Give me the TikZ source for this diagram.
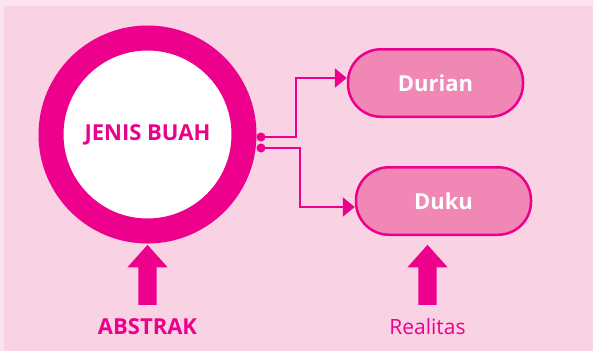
\documentclass[tikz,border=0pt]{standalone}
\usepackage{fontspec}
\setmainfont{Open Sans}
\usetikzlibrary{shapes,arrows.meta,calc,positioning}
\definecolor{magenta}{HTML}{EC008C}
\definecolor{boxpink}{HTML}{F187B4}
\definecolor{panel}{HTML}{F9D3E4}
\definecolor{frame}{HTML}{FBE4EE}
\begin{document}
\begin{tikzpicture}[x=1pt,y=-1pt,node distance=100pt,on grid,
    ring/.style={circle,draw=magenta,line width=25pt,fill=white,minimum size=193pt,
      inner sep=0pt,text=magenta,font=\fontsize{22}{26}\selectfont\bfseries},
    fruit/.style={rectangle,rounded corners=33pt,draw=magenta,line width=2.5pt,fill=boxpink,
      minimum width=175pt,minimum height=67.5pt,text=white,font=\fontsize{22}{26}\selectfont\bfseries},
    dot/.style={circle,fill=magenta,inner sep=0pt,minimum size=9pt},
    link/.style={draw=magenta,line width=2.5pt,-{Triangle[length=12pt,width=19pt]}},
    bigarrow/.style={single arrow,fill=magenta,rotate=90,inner sep=0pt,minimum height=60pt,
      single arrow head extend=11pt,single arrow tip angle=84},
    caption/.style={text=magenta,font=\fontsize{21}{25}\selectfont}]
      \fill[frame] (0,0) rectangle (593,351);
      \fill[panel] (4,6) rectangle (593,351);

      \node[ring] (buah) at (147.5,134.5) {JENIS BUAH};
      \node[fruit] (durian) [above right= 51.5pt and 288pt of buah] {Durian};
      \node[fruit] (duku) [below right= 66.5pt and 296pt of buah] {Duku};

      \node[dot] (d1) at ($(buah.east)+(4.5,2.5)$) {};
      \node[dot] (d2) at ($(buah.east)+(4.5,13.5)$) {};

      \path[link] (d1.center) -- ++(35,0) |- ([yshift=5pt]durian.west);
      \path[link] (d2.center) -- ++(39,0) |- ([yshift=-6pt]duku.west);

      \node[bigarrow] (up1) [below= 145.5pt of buah] {\rule{0pt}{18pt}};
      \node[bigarrow] (up2) [right= 280pt of up1] {\rule{0pt}{18pt}};
      \node[caption,font=\fontsize{22}{26}\selectfont\bfseries] (abstrak) [below= 47pt of up1] {ABSTRAK};
      \node[caption] (realitas) [below= 47pt of up2] {Realitas};
\end{tikzpicture}
\end{document}
